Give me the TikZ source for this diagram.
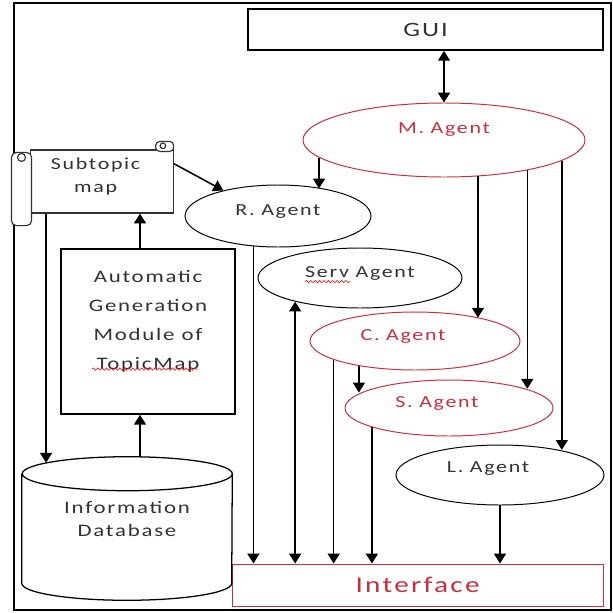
\documentclass[tikz,border=0pt]{standalone}
\usepackage{fontspec}
\setmainfont{Carlito}[FakeStretch=1.3,LetterSpace=10]
\usepackage{xcolor}
\usetikzlibrary{arrows.meta, shapes.geometric, decorations.pathmorphing}

\definecolor{agentred}{RGB}{196,48,62}
\definecolor{inkgray}{RGB}{50,50,50}

\begin{document}
\begin{tikzpicture}[
  font=\fontsize{12}{16.4}\selectfont,
  text=inkgray,
  arr/.style={-{Triangle[length=7pt,width=8.5pt]}, line width=1.1pt},
  dblarr/.style={{Triangle[length=7pt,width=8.5pt]}-{Triangle[length=7pt,width=8.5pt]}, line width=1.1pt},
  plainbox/.style={rectangle, draw, line width=1.1pt, inner sep=0pt, align=center},
  agent/.style={ellipse, draw, line width=0.7pt, inner sep=0pt, text height=1.5ex, text depth=8pt},
  ragent/.style={agent, draw=agentred, text=agentred},
  leftish/.style={execute at end node={\hspace*{6mm}}},
  scrollln/.style={draw=inkgray, line width=0.8pt, fill=white},
  spellwave/.style={red, line width=0.4pt, decorate,
                    decoration={snake, amplitude=0.3mm, segment length=1.1mm}},
]

\useasboundingbox (0,0) rectangle (15.325,-15.325);
\draw[line width=1pt] (0.35,-0.075) rectangle (15.27,-15.25);

%% ===== Agents =====
\node[plainbox, minimum width=8.875cm, minimum height=1.025cm,
      font=\fontsize{14.5}{16}\selectfont] (gui) at (10.64,-0.74) {GUI};

\node[ragent, minimum width=7.05cm, minimum height=1.85cm, text depth=16pt]
  (mag) at (11.1,-3.5) {M. Agent};
\node[agent, minimum width=4.65cm, minimum height=1.55cm]
  (rag) at (6.95,-5.4) {R. Agent};
\node[agent, minimum width=5.1cm, minimum height=1.5cm]
  (servag) at (9.0,-6.95) {Serv Agent};
\node[ragent, leftish, minimum width=5.25cm, minimum height=1.45cm]
  (cag) at (10.375,-8.525) {C. Agent};
\node[ragent, leftish, minimum width=5.2cm, minimum height=1.4cm]
  (sag) at (11.225,-10.2) {S. Agent};
\node[agent, leftish, minimum width=5.2cm, minimum height=1.5cm, text depth=11pt]
  (lag) at (12.5,-11.875) {L. Agent};

\node[plainbox, draw=agentred, text=agentred, line width=0.7pt,
      minimum width=9.275cm, minimum height=1.05cm,
      font=\fontsize{16}{18}\selectfont] (ifc) at (10.44,-14.625) {Interface};

%% ===== Topic map side =====
\node[plainbox, draw=inkgray, line width=0.8pt, minimum width=3.575cm, minimum height=1.575cm,
      text depth=8.5pt]
  (sub) at (2.54,-4.5375) {Subtopic\hspace*{3mm}\\map\hspace*{3mm}};
\draw[scrollln, rounded corners=1.2mm]
  ([xshift=-4.5mm,yshift=-0.75mm]sub.north west) rectangle ([xshift=0.5mm,yshift=-3mm]sub.south west);
\draw[scrollln] ([xshift=-2mm,yshift=-2mm]sub.north west) circle (1mm);
\draw[scrollln, rounded corners=1mm]
  ([xshift=-4.5mm,yshift=-0.5mm]sub.north east) rectangle ([yshift=2mm]sub.north east);
\draw[scrollln] ([xshift=-2.7mm,yshift=0.9mm]sub.north east) circle (0.7mm);

\node[plainbox, minimum width=4.35cm, minimum height=4.125cm, text depth=17pt,
      font=\fontsize{12.5}{20.6}\selectfont]
  (autogen) at (3.7,-8.2875) {Automatic\\Generation\\Module of\\TopicMap};

\node[minimum width=5.25cm, minimum height=2.725cm, inner sep=0pt, align=center,
      text depth=13pt, font=\fontsize{12.5}{16.4}\selectfont]
  (db) at (3.175,-13.2125) {Information\\Database};
\draw[line width=0.9pt] (db.north west) -- (db.south west)
  arc[start angle=180, end angle=360, x radius=2.625cm, y radius=0.425cm]
  -- (db.north east)
  arc[start angle=0, end angle=360, x radius=2.625cm, y radius=0.425cm];

%% spelling marks
\draw[spellwave] ([xshift=-13.75mm,yshift=-0.9mm]servag.center) -- ([xshift=-2.5mm,yshift=-0.9mm]servag.center);
\draw[spellwave] ([xshift=-14mm,yshift=-9.4mm]autogen.center) -- ([xshift=12.5mm,yshift=-9.4mm]autogen.center);

%% ===== Connectors =====
\draw[dblarr] (gui.south -| mag.north) -- (mag.north);

\draw[arr] (mag.188.6) -- (mag.188.6 |- rag.31.8);
\draw[arr] (mag.-47.5) -- (mag.-47.5 |- cag.20.7);
\draw[arr] (mag.-20.5) -- (mag.-20.5 |- sag.14.1);
\draw[arr] (mag.-10.8) -- (mag.-10.8 |- lag.23.2);
\draw[arr] (cag.204.2) -- (cag.204.2 |- sag.170.7);
\draw[arr] (sub.14.5) -- (rag.155.6);

\draw[arr] (rag.231.3) -- (rag.231.3 |- ifc.north);
\draw[dblarr] (servag.200.5 |- ifc.north) -- (servag.200.5);
\draw[arr] (cag.193.2) -- (cag.193.2 |- ifc.north);
\draw[arr] (sag.194.9) -- (sag.194.9 |- ifc.north);
\draw[arr] (lag.south) -- (lag.south |- ifc.north);

\draw[arr] (sub.210) -- ([yshift=2.75mm]sub.210 |- db.north);
\draw[arr] ([xshift=-2mm,yshift=4.25mm]autogen.south |- db.north) -- ([xshift=-2mm]autogen.south);
\draw[arr] ([xshift=-2mm]autogen.north) -- ([xshift=-2mm]autogen.north |- sub.south);

\end{tikzpicture}
\end{document}
